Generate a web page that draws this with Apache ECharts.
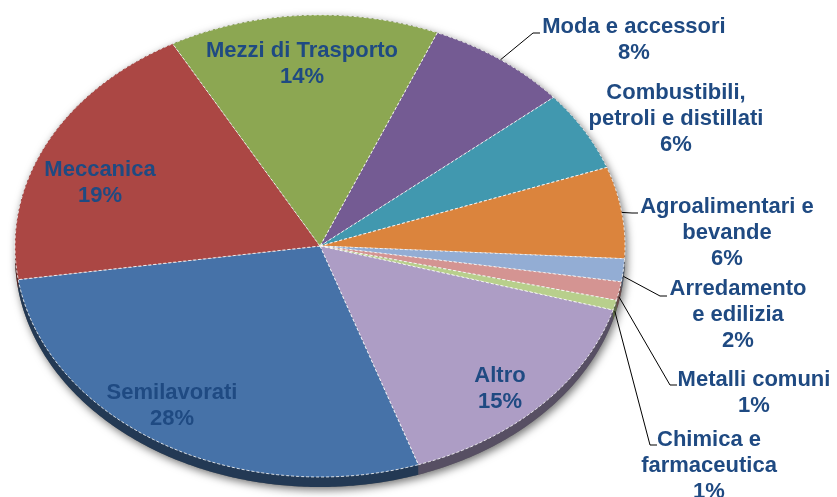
<!DOCTYPE html>
<html><head><meta charset="utf-8">
<script src="https://cdn.jsdelivr.net/npm/echarts@6/dist/echarts.min.js"></script>
<style>html,body{margin:0;padding:0;background:#fff}#c{width:837px;height:497px}</style>
</head><body><div id="c"></div>
<script>
// ---- data ----
const categories = ['Moda e accessori', 'Combustibili,\npetroli e distillati', 'Agroalimentari e\nbevande', 'Arredamento\ne edilizia', 'Metalli comuni', 'Chimica e\nfarmaceutica', 'Altro', 'Semilavorati', 'Meccanica', 'Mezzi di Trasporto'];
const shares = [7.6, 5.6, 6.4, 1.6, 1.3, 0.7, 15.3, 27.9, 19.3, 14.3];

// ---- styles / layout ----
const colors = ['#745B93', '#4198AF', '#DB843D', '#93ADD4', '#D49492', '#B8CF8C', '#AD9DC5', '#4672A8', '#AB4744', '#8CA752'];
const labelLayout = [
  { x: 634, y: 40, line: [[533, 33], [540, 33]] },
  { x: 676, y: 119 },
  { x: 727, y: 233, line: [[632, 213], [638, 213]] },
  { x: 738, y: 315, line: [[660, 296], [667, 296]] },
  { x: 754, y: 393, line: [[670, 385], [677, 385]] },
  { x: 709, y: 466, line: [[650, 445], [657, 445]] },
  { x: 500, y: 389 },
  { x: 172, y: 406 },
  { x: 100, y: 183 },
  { x: 302, y: 64 }
];
const PIE = { cx: 320, cy: 246, rx: 305, ry: 231, depth: 10, start: 67.4 };

const total = shares.reduce((a, b) => a + b, 0);
const starts = [];
{ let acc = 0; shares.forEach(v => { starts.push(acc); acc += v; }); }

function darken(hex, f) {
  const n = parseInt(hex.slice(1), 16);
  const r = Math.round(((n >> 16) & 255) * f), g = Math.round(((n >> 8) & 255) * f), b = Math.round((n & 255) * f);
  return 'rgb(' + r + ',' + g + ',' + b + ')';
}
const pt = (a, dy) => [PIE.cx + PIE.rx * Math.cos(a), PIE.cy - PIE.ry * Math.sin(a) + (dy || 0)];
function arcPts(from, to, dy) {
  const n = Math.max(2, Math.ceil(Math.abs(to - from) / 0.01));
  const out = [];
  for (let k = 0; k <= n; k++) out.push(pt(from + (to - from) * k / n, dy));
  return out;
}

function renderItem(params, api) {
  const i = params.dataIndex;
  const v = api.value(0), s = api.value(1);
  const a0 = (PIE.start - s / total * 360) * Math.PI / 180;
  const a1 = (PIE.start - (s + v) / total * 360) * Math.PI / 180;
  const children = [];
  if (i === 0) {
    const sh = arcPts(0, Math.PI, 0).concat(arcPts(Math.PI, 2 * Math.PI, PIE.depth));
    children.push({ type: 'polygon', z2: 0, shape: { points: sh },
      style: { fill: '#666', shadowColor: 'rgba(0,0,0,0.55)', shadowBlur: 8, shadowOffsetX: 2, shadowOffsetY: 3 } });
  }
  // side rim (lower half only)
  const hi = Math.min(a0, 0), lo = Math.max(a1, -Math.PI);
  if (hi > lo) {
    const top = arcPts(hi, lo, 0);
    const bot = arcPts(lo, hi, PIE.depth);
    children.push({ type: 'polygon', z2: 1, shape: { points: top.concat(bot) },
      style: { fill: darken(colors[i], 0.5) } });
  }
  // top face
  const face = [[PIE.cx, PIE.cy]].concat(arcPts(a0, a1, 0));
  children.push({ type: 'polygon', z2: 2, shape: { points: face },
    style: { fill: colors[i], stroke: 'rgba(255,255,255,0.8)', lineWidth: 1, lineDash: [3, 2] } });
  // label
  const L = labelLayout[i];
  if (L.line) {
    const m = (a0 + a1) / 2;
    const p0 = pt(m, Math.sin(m) < 0 ? PIE.depth * 0.6 : 0);
    children.push({ type: 'polyline', z2: 3, shape: { points: [p0].concat(L.line) },
      style: { stroke: '#000', lineWidth: 1, fill: null } });
  }
  children.push({ type: 'text', z2: 4, x: L.x, y: L.y,
    style: { text: categories[i] + '\n' + Math.round(v) + '%', fill: '#1F4A82',
      font: 'bold 22px "Liberation Sans", Arial, sans-serif', align: 'center', verticalAlign: 'middle', lineHeight: 26 } });
  return { type: 'group', children: children };
}

const chart = echarts.init(document.getElementById('c'), null, { renderer: 'canvas' });
chart.setOption({
  animation: false,
  backgroundColor: '#fff',
  series: [{
    type: 'custom',
    coordinateSystem: 'none',
    renderItem: renderItem,
    data: shares.map((v, i) => [v, starts[i]])
  }]
});
</script></body></html>
